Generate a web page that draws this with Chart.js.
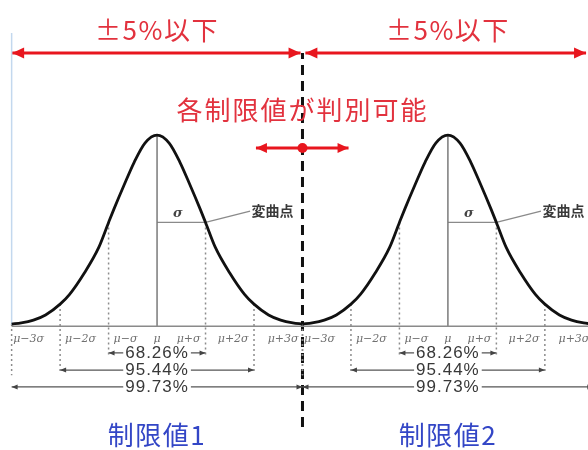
<!DOCTYPE html>
<html lang="ja">
<head>
<meta charset="utf-8">
<title>正規分布と制限値</title>
<script src="https://cdn.jsdelivr.net/npm/chart.js@4/dist/chart.umd.min.js"></script>
<style>
  html, body { margin: 0; padding: 0; background: #fff; }
  #wrap { width: 588px; height: 450px; }
</style>
</head>
<body>
<div id="wrap"><canvas id="grafico" width="588" height="450"></canvas></div>
<script>
// 分布の形：μからの位置（σ単位）と、ピークを1とした高さ
const posSigma = [-3, -2.8, -2.55, -2.3, -2, -1.8, -1.5, -1.2, -1, -0.89, -0.68, -0.47, -0.25, 0,
                  0.25, 0.47, 0.68, 0.89, 1, 1.2, 1.5, 1.8, 2, 2.3, 2.55, 2.8, 3];
const altura = [0.005, 0.011, 0.026, 0.053, 0.11, 0.163, 0.274, 0.41, 0.54, 0.61, 0.737, 0.858, 0.958, 1,
                0.958, 0.858, 0.737, 0.61, 0.54, 0.41, 0.274, 0.163, 0.11, 0.053, 0.026, 0.011, 0.005];

// 各制限値の中心（σ単位）
const centros = [0, 6];
const nomesLimite = ['制限値1', '制限値2'];

// σ目盛
const passosSigma = [-3, -2, -1, 0, 1, 2, 3];
const rotulosSigma = ['μ−3σ', 'μ−2σ', 'μ−σ', 'μ', 'μ+σ', 'μ+2σ', 'μ+3σ'];
const posRotulos = [-2.65, -1.58, -0.65, 0, 0.65, 1.57, 2.6];

// 範囲と割合
const faixaMeia = [1, 2, 3];
const faixaTexto = ['68.26%', '95.44%', '99.73%'];

const textoTolerancia = '±5%以下';
const textoJulgamento = '各制限値が判別可能';
const textoInflexao = '変曲点';

/* =========================
   レイアウト定数（データ座標）
   ========================= */
const X_MIN = -3.24, X_MAX = 8.89;
const Y_MIN = -0.658, Y_MAX = 1.711;
const Y_BASE = -0.006;
const Y_FAIXA = [-0.147, -0.237, -0.326];
const Y_PONTILHADO = { 1: -0.168, 2: -0.253, 3: -0.265 };
const Y_TOPO = 1.432;
const Y_SETA_MEIO = 0.932;
const X_LIMITE = 3;

const VERMELHO = '#e8161e';

function alturaEm(s) {
  const i = posSigma.indexOf(s);
  return i >= 0 ? altura[i] : 0;
}

function seg(x0, y0, x1, y1, cor, largura, dash) {
  return {
    data: [{ x: x0, y: y0 }, { x: x1, y: y1 }],
    borderColor: cor,
    borderWidth: largura,
    borderDash: dash || [],
    pointRadius: 0,
    tension: 0,
    fill: false
  };
}

const datasets = [];

// curvas
centros.forEach(c => {
  datasets.push({
    data: posSigma.map((s, i) => ({ x: c + s, y: altura[i] })),
    borderColor: '#111',
    borderWidth: 2.8,
    pointRadius: 0,
    cubicInterpolationMode: 'monotone',
    fill: false
  });
});

// linha vertical azul clara à esquerda
datasets.push(seg(-3, 0, -3, 1.537, '#c3d8ee', 1.5));

// eixo base
datasets.push(seg(-3, Y_BASE, X_MAX, Y_BASE, '#8a8a8a', 1.5));

centros.forEach(c => {
  // μ
  datasets.push(seg(c, Y_BASE, c, 1, '#7a7a7a', 1.5));
  // σ horizontal e linha do 変曲点
  datasets.push(seg(c, 0.54, c + 1, 0.54, '#8a8a8a', 1.3));
  datasets.push(seg(c + 1, 0.54, c + 1.92, 0.6, '#8a8a8a', 1.3));
  // linhas pontilhadas ±kσ
  passosSigma.filter(s => s !== 0).forEach(s => {
    datasets.push(seg(c + s, alturaEm(s), c + s, Y_PONTILHADO[Math.abs(s)], '#8c8c8c', 1.5, [2, 3]));
  });
  // hastes das faixas
  faixaMeia.forEach((w, k) => {
    datasets.push(seg(c - w, Y_FAIXA[k], c + w, Y_FAIXA[k], '#555', 1.2));
  });
});

// linha tracejada entre os limites
datasets.push(seg(X_LIMITE, -0.537, X_LIMITE, Y_TOPO, '#111', 3, [10, 6]));

// setas vermelhas
datasets.push(seg(-2.99, Y_TOPO, 2.96, Y_TOPO, VERMELHO, 3));
datasets.push(seg(3.06, Y_TOPO, 8.85, Y_TOPO, VERMELHO, 3));
datasets.push(seg(2.04, Y_SETA_MEIO, 3.95, Y_SETA_MEIO, VERMELHO, 3));

/* =========================
   Textos e pontas de seta
   ========================= */
const anotacoes = {
  id: 'anotacoes',
  afterDatasetsDraw(chart) {
    const { ctx, scales } = chart;
    const px = v => scales.x.getPixelForValue(v);
    const py = v => scales.y.getPixelForValue(v);

    function ponta(x, y, dir, len, meia, cor) {
      const X = px(x), Y = py(y);
      ctx.beginPath();
      ctx.moveTo(X, Y);
      ctx.lineTo(X - dir * len, Y - meia);
      ctx.lineTo(X - dir * len, Y + meia);
      ctx.closePath();
      ctx.fillStyle = cor;
      ctx.fill();
    }

    function texto(t, x, y, fonte, cor, align, espaco) {
      ctx.font = fonte;
      ctx.fillStyle = cor;
      ctx.textAlign = align || 'center';
      ctx.textBaseline = 'middle';
      ctx.letterSpacing = espaco || '0px';
      ctx.fillText(t, px(x), py(y));
      ctx.letterSpacing = '0px';
    }

    const fontePct = '17px "Liberation Sans", Arial, sans-serif';

    ctx.save();

    centros.forEach((c, idx) => {
      // faixas com texto sobre fundo branco
      faixaMeia.forEach((w, k) => {
        ponta(c - w, Y_FAIXA[k], -1, 6, 2.5, '#444');
        ponta(c + w, Y_FAIXA[k], 1, 6, 2.5, '#444');
        ctx.font = fontePct;
        ctx.letterSpacing = '1px';
        const larg = ctx.measureText(faixaTexto[k]).width;
        ctx.fillStyle = '#fff';
        ctx.fillRect(px(c) - larg / 2 - 2, py(Y_FAIXA[k]) - 7, larg + 4, 14);
        texto(faixaTexto[k], c, Y_FAIXA[k] - 0.004, fontePct, '#383838', 'center', '1px');
      });

      // rótulos μ±kσ
      rotulosSigma.forEach((r, i) => {
        texto(r, c + posRotulos[i], -0.074, 'italic 11px "DejaVu Serif", serif', '#707070');
      });

      texto('σ', c + 0.43, 0.584, 'italic bold 13px "DejaVu Serif", serif', '#444');
      texto(textoInflexao, c + 1.95, 0.6, 'bold 14px "Noto Sans CJK JP", sans-serif', '#3a3a3a', 'left');

      texto(textoTolerancia, c, 1.553, '26px "Noto Sans CJK JP", sans-serif', '#e2323e', 'center', '1.5px');
      texto(nomesLimite[idx], c, -0.579, '26px "Noto Sans CJK JP", sans-serif', '#3346c6', 'center', '1.5px');
    });

    // pontas vermelhas
    ponta(-2.99, Y_TOPO, -1, 12, 5.5, VERMELHO);
    ponta(2.96, Y_TOPO, 1, 12, 5.5, VERMELHO);
    ponta(3.06, Y_TOPO, -1, 12, 5.5, VERMELHO);
    ponta(8.85, Y_TOPO, 1, 12, 5.5, VERMELHO);
    ponta(2.04, Y_SETA_MEIO, -1, 11, 5, VERMELHO);
    ponta(3.95, Y_SETA_MEIO, 1, 11, 5, VERMELHO);

    // ponto central
    ctx.beginPath();
    ctx.arc(px(X_LIMITE), py(Y_SETA_MEIO), 5, 0, Math.PI * 2);
    ctx.fillStyle = VERMELHO;
    ctx.fill();

    texto(textoJulgamento, X_LIMITE, 1.132, '26px "Noto Sans CJK JP", sans-serif', '#e2323e', 'center', '2px');

    ctx.restore();
  }
};

new Chart(document.getElementById('grafico').getContext('2d'), {
  type: 'line',
  data: { datasets },
  options: {
    responsive: false,
    animation: false,
    devicePixelRatio: 1,
    layout: { padding: 0 },
    scales: {
      x: { type: 'linear', min: X_MIN, max: X_MAX, display: false },
      y: { type: 'linear', min: Y_MIN, max: Y_MAX, display: false }
    },
    plugins: {
      legend: { display: false },
      tooltip: { enabled: false }
    },
    elements: { point: { radius: 0 } }
  },
  plugins: [anotacoes]
});
</script>
</body>
</html>
